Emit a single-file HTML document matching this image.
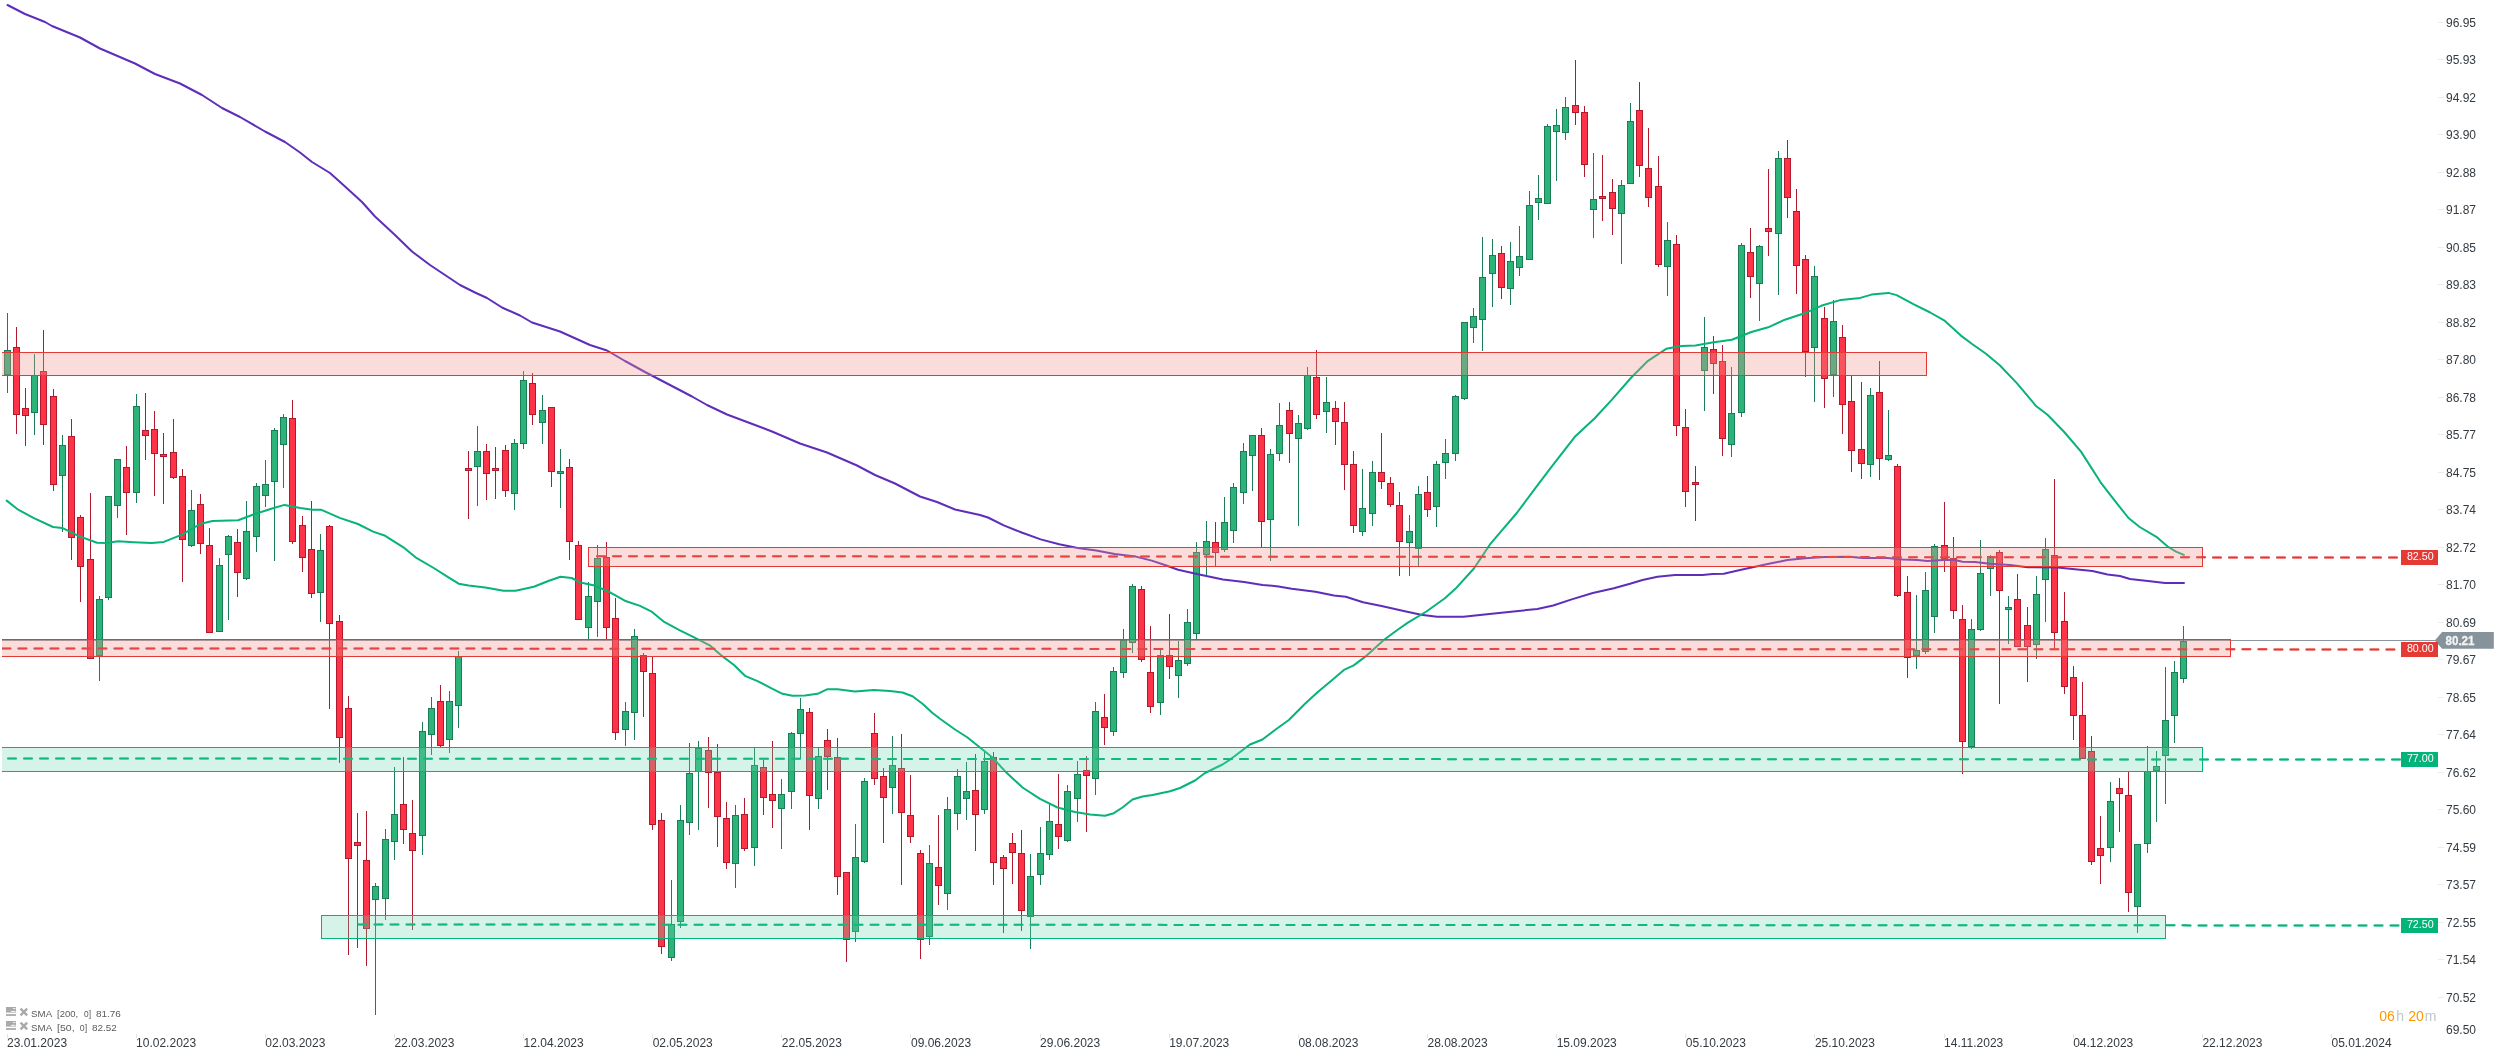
<!DOCTYPE html><html><head><meta charset="utf-8"><title>chart</title>
<style>html,body{margin:0;padding:0;background:#fff}body{width:2506px;height:1060px;overflow:hidden;font-family:"Liberation Sans",sans-serif}svg{display:block}text{font-family:"Liberation Sans",sans-serif}</style></head><body>
<svg width="2506" height="1060" viewBox="0 0 2506 1060" style="will-change:transform">
<defs><clipPath id="cl"><rect x="2" y="0" width="2504" height="1060"/></clipPath></defs>
<rect width="2506" height="1060" fill="#fff"/>
<line x1="2" y1="640.5" x2="2436" y2="640.5" stroke="#8a969d" stroke-width="1" shape-rendering="crispEdges"/>
<g shape-rendering="crispEdges">
<rect x="7.0" y="313" width="1" height="80" fill="#1a7d55"/>
<rect x="4.0" y="350" width="7" height="25" fill="#1a7d55"/>
<rect x="5.0" y="351" width="5" height="23" fill="#2bb37a"/>
<rect x="16.0" y="327" width="1" height="107" fill="#b01a2c"/>
<rect x="13.0" y="347" width="7" height="68" fill="#b01a2c"/>
<rect x="14.0" y="348" width="5" height="66" fill="#ff3347"/>
<rect x="25.0" y="388" width="1" height="58" fill="#b01a2c"/>
<rect x="22.0" y="408" width="7" height="8" fill="#b01a2c"/>
<rect x="23.0" y="409" width="5" height="6" fill="#ff3347"/>
<rect x="34.0" y="354" width="1" height="81" fill="#1a7d55"/>
<rect x="31.0" y="375" width="7" height="38" fill="#1a7d55"/>
<rect x="32.0" y="376" width="5" height="36" fill="#2bb37a"/>
<rect x="43.0" y="330" width="1" height="115" fill="#b01a2c"/>
<rect x="40.0" y="371" width="7" height="54" fill="#b01a2c"/>
<rect x="41.0" y="372" width="5" height="52" fill="#ff3347"/>
<rect x="53.0" y="389" width="1" height="102" fill="#b01a2c"/>
<rect x="50.0" y="396" width="7" height="89" fill="#b01a2c"/>
<rect x="51.0" y="397" width="5" height="87" fill="#ff3347"/>
<rect x="62.0" y="435" width="1" height="97" fill="#1a7d55"/>
<rect x="59.0" y="445" width="7" height="31" fill="#1a7d55"/>
<rect x="60.0" y="446" width="5" height="29" fill="#2bb37a"/>
<rect x="71.0" y="419" width="1" height="141" fill="#b01a2c"/>
<rect x="68.0" y="436" width="7" height="102" fill="#b01a2c"/>
<rect x="69.0" y="437" width="5" height="100" fill="#ff3347"/>
<rect x="80.0" y="515" width="1" height="87" fill="#b01a2c"/>
<rect x="77.0" y="517" width="7" height="50" fill="#b01a2c"/>
<rect x="78.0" y="518" width="5" height="48" fill="#ff3347"/>
<rect x="90.0" y="493" width="1" height="166" fill="#b01a2c"/>
<rect x="87.0" y="559" width="7" height="100" fill="#b01a2c"/>
<rect x="88.0" y="560" width="5" height="98" fill="#ff3347"/>
<rect x="99.0" y="596" width="1" height="85" fill="#1a7d55"/>
<rect x="96.0" y="599" width="7" height="57" fill="#1a7d55"/>
<rect x="97.0" y="600" width="5" height="55" fill="#2bb37a"/>
<rect x="108.0" y="496" width="1" height="104" fill="#1a7d55"/>
<rect x="105.0" y="496" width="7" height="102" fill="#1a7d55"/>
<rect x="106.0" y="497" width="5" height="100" fill="#2bb37a"/>
<rect x="117.0" y="459" width="1" height="59" fill="#1a7d55"/>
<rect x="114.0" y="459" width="7" height="47" fill="#1a7d55"/>
<rect x="115.0" y="460" width="5" height="45" fill="#2bb37a"/>
<rect x="126.0" y="446" width="1" height="89" fill="#b01a2c"/>
<rect x="123.0" y="467" width="7" height="26" fill="#b01a2c"/>
<rect x="124.0" y="468" width="5" height="24" fill="#ff3347"/>
<rect x="136.0" y="394" width="1" height="109" fill="#1a7d55"/>
<rect x="133.0" y="406" width="7" height="87" fill="#1a7d55"/>
<rect x="134.0" y="407" width="5" height="85" fill="#2bb37a"/>
<rect x="145.0" y="393" width="1" height="67" fill="#b01a2c"/>
<rect x="142.0" y="430" width="7" height="6" fill="#b01a2c"/>
<rect x="143.0" y="431" width="5" height="4" fill="#ff3347"/>
<rect x="154.0" y="411" width="1" height="85" fill="#b01a2c"/>
<rect x="151.0" y="429" width="7" height="25" fill="#b01a2c"/>
<rect x="152.0" y="430" width="5" height="23" fill="#ff3347"/>
<rect x="163.0" y="433" width="1" height="71" fill="#b01a2c"/>
<rect x="160.0" y="454" width="7" height="3" fill="#b01a2c"/>
<rect x="161.0" y="455" width="5" height="1" fill="#ff3347"/>
<rect x="173.0" y="419" width="1" height="60" fill="#b01a2c"/>
<rect x="170.0" y="452" width="7" height="26" fill="#b01a2c"/>
<rect x="171.0" y="453" width="5" height="24" fill="#ff3347"/>
<rect x="182.0" y="469" width="1" height="113" fill="#b01a2c"/>
<rect x="179.0" y="476" width="7" height="64" fill="#b01a2c"/>
<rect x="180.0" y="477" width="5" height="62" fill="#ff3347"/>
<rect x="191.0" y="490" width="1" height="57" fill="#1a7d55"/>
<rect x="188.0" y="510" width="7" height="36" fill="#1a7d55"/>
<rect x="189.0" y="511" width="5" height="34" fill="#2bb37a"/>
<rect x="200.0" y="494" width="1" height="60" fill="#b01a2c"/>
<rect x="197.0" y="504" width="7" height="40" fill="#b01a2c"/>
<rect x="198.0" y="505" width="5" height="38" fill="#ff3347"/>
<rect x="209.0" y="528" width="1" height="105" fill="#b01a2c"/>
<rect x="206.0" y="545" width="7" height="88" fill="#b01a2c"/>
<rect x="207.0" y="546" width="5" height="86" fill="#ff3347"/>
<rect x="219.0" y="558" width="1" height="74" fill="#1a7d55"/>
<rect x="216.0" y="565" width="7" height="67" fill="#1a7d55"/>
<rect x="217.0" y="566" width="5" height="65" fill="#2bb37a"/>
<rect x="228.0" y="535" width="1" height="85" fill="#1a7d55"/>
<rect x="225.0" y="536" width="7" height="19" fill="#1a7d55"/>
<rect x="226.0" y="537" width="5" height="17" fill="#2bb37a"/>
<rect x="237.0" y="529" width="1" height="68" fill="#b01a2c"/>
<rect x="234.0" y="542" width="7" height="31" fill="#b01a2c"/>
<rect x="235.0" y="543" width="5" height="29" fill="#ff3347"/>
<rect x="246.0" y="501" width="1" height="79" fill="#1a7d55"/>
<rect x="243.0" y="531" width="7" height="48" fill="#1a7d55"/>
<rect x="244.0" y="532" width="5" height="46" fill="#2bb37a"/>
<rect x="256.0" y="483" width="1" height="69" fill="#1a7d55"/>
<rect x="253.0" y="486" width="7" height="51" fill="#1a7d55"/>
<rect x="254.0" y="487" width="5" height="49" fill="#2bb37a"/>
<rect x="265.0" y="460" width="1" height="47" fill="#1a7d55"/>
<rect x="262.0" y="484" width="7" height="12" fill="#1a7d55"/>
<rect x="263.0" y="485" width="5" height="10" fill="#2bb37a"/>
<rect x="274.0" y="428" width="1" height="133" fill="#1a7d55"/>
<rect x="271.0" y="430" width="7" height="52" fill="#1a7d55"/>
<rect x="272.0" y="431" width="5" height="50" fill="#2bb37a"/>
<rect x="283.0" y="414" width="1" height="74" fill="#1a7d55"/>
<rect x="280.0" y="417" width="7" height="28" fill="#1a7d55"/>
<rect x="281.0" y="418" width="5" height="26" fill="#2bb37a"/>
<rect x="292.0" y="400" width="1" height="144" fill="#b01a2c"/>
<rect x="289.0" y="418" width="7" height="124" fill="#b01a2c"/>
<rect x="290.0" y="419" width="5" height="122" fill="#ff3347"/>
<rect x="302.0" y="516" width="1" height="56" fill="#b01a2c"/>
<rect x="299.0" y="525" width="7" height="33" fill="#b01a2c"/>
<rect x="300.0" y="526" width="5" height="31" fill="#ff3347"/>
<rect x="311.0" y="501" width="1" height="97" fill="#b01a2c"/>
<rect x="308.0" y="549" width="7" height="45" fill="#b01a2c"/>
<rect x="309.0" y="550" width="5" height="43" fill="#ff3347"/>
<rect x="320.0" y="534" width="1" height="88" fill="#1a7d55"/>
<rect x="317.0" y="550" width="7" height="43" fill="#1a7d55"/>
<rect x="318.0" y="551" width="5" height="41" fill="#2bb37a"/>
<rect x="329.0" y="525" width="1" height="184" fill="#b01a2c"/>
<rect x="326.0" y="526" width="7" height="98" fill="#b01a2c"/>
<rect x="327.0" y="527" width="5" height="96" fill="#ff3347"/>
<rect x="339.0" y="615" width="1" height="148" fill="#b01a2c"/>
<rect x="336.0" y="621" width="7" height="117" fill="#b01a2c"/>
<rect x="337.0" y="622" width="5" height="115" fill="#ff3347"/>
<rect x="348.0" y="696" width="1" height="259" fill="#b01a2c"/>
<rect x="345.0" y="708" width="7" height="151" fill="#b01a2c"/>
<rect x="346.0" y="709" width="5" height="149" fill="#ff3347"/>
<rect x="357.0" y="813" width="1" height="135" fill="#b01a2c"/>
<rect x="354.0" y="842" width="7" height="4" fill="#b01a2c"/>
<rect x="355.0" y="843" width="5" height="2" fill="#ff3347"/>
<rect x="366.0" y="811" width="1" height="155" fill="#b01a2c"/>
<rect x="363.0" y="860" width="7" height="69" fill="#b01a2c"/>
<rect x="364.0" y="861" width="5" height="67" fill="#ff3347"/>
<rect x="375.0" y="883" width="1" height="132" fill="#1a7d55"/>
<rect x="372.0" y="886" width="7" height="14" fill="#1a7d55"/>
<rect x="373.0" y="887" width="5" height="12" fill="#2bb37a"/>
<rect x="385.0" y="829" width="1" height="91" fill="#1a7d55"/>
<rect x="382.0" y="839" width="7" height="60" fill="#1a7d55"/>
<rect x="383.0" y="840" width="5" height="58" fill="#2bb37a"/>
<rect x="394.0" y="767" width="1" height="93" fill="#1a7d55"/>
<rect x="391.0" y="814" width="7" height="28" fill="#1a7d55"/>
<rect x="392.0" y="815" width="5" height="26" fill="#2bb37a"/>
<rect x="403.0" y="757" width="1" height="87" fill="#b01a2c"/>
<rect x="400.0" y="804" width="7" height="26" fill="#b01a2c"/>
<rect x="401.0" y="805" width="5" height="24" fill="#ff3347"/>
<rect x="412.0" y="800" width="1" height="130" fill="#b01a2c"/>
<rect x="409.0" y="833" width="7" height="18" fill="#b01a2c"/>
<rect x="410.0" y="834" width="5" height="16" fill="#ff3347"/>
<rect x="422.0" y="722" width="1" height="133" fill="#1a7d55"/>
<rect x="419.0" y="731" width="7" height="105" fill="#1a7d55"/>
<rect x="420.0" y="732" width="5" height="103" fill="#2bb37a"/>
<rect x="431.0" y="697" width="1" height="58" fill="#1a7d55"/>
<rect x="428.0" y="708" width="7" height="27" fill="#1a7d55"/>
<rect x="429.0" y="709" width="5" height="25" fill="#2bb37a"/>
<rect x="440.0" y="685" width="1" height="62" fill="#b01a2c"/>
<rect x="437.0" y="701" width="7" height="45" fill="#b01a2c"/>
<rect x="438.0" y="702" width="5" height="43" fill="#ff3347"/>
<rect x="449.0" y="691" width="1" height="62" fill="#1a7d55"/>
<rect x="446.0" y="701" width="7" height="39" fill="#1a7d55"/>
<rect x="447.0" y="702" width="5" height="37" fill="#2bb37a"/>
<rect x="458.0" y="651" width="1" height="77" fill="#1a7d55"/>
<rect x="455.0" y="656" width="7" height="50" fill="#1a7d55"/>
<rect x="456.0" y="657" width="5" height="48" fill="#2bb37a"/>
<rect x="468.0" y="451" width="1" height="68" fill="#b01a2c"/>
<rect x="465.0" y="468" width="7" height="3" fill="#b01a2c"/>
<rect x="466.0" y="469" width="5" height="1" fill="#ff3347"/>
<rect x="477.0" y="426" width="1" height="80" fill="#1a7d55"/>
<rect x="474.0" y="451" width="7" height="16" fill="#1a7d55"/>
<rect x="475.0" y="452" width="5" height="14" fill="#2bb37a"/>
<rect x="486.0" y="444" width="1" height="56" fill="#b01a2c"/>
<rect x="483.0" y="451" width="7" height="23" fill="#b01a2c"/>
<rect x="484.0" y="452" width="5" height="21" fill="#ff3347"/>
<rect x="495.0" y="447" width="1" height="52" fill="#b01a2c"/>
<rect x="492.0" y="468" width="7" height="3" fill="#b01a2c"/>
<rect x="493.0" y="469" width="5" height="1" fill="#ff3347"/>
<rect x="505.0" y="445" width="1" height="52" fill="#b01a2c"/>
<rect x="502.0" y="450" width="7" height="41" fill="#b01a2c"/>
<rect x="503.0" y="451" width="5" height="39" fill="#ff3347"/>
<rect x="514.0" y="439" width="1" height="71" fill="#1a7d55"/>
<rect x="511.0" y="443" width="7" height="51" fill="#1a7d55"/>
<rect x="512.0" y="444" width="5" height="49" fill="#2bb37a"/>
<rect x="523.0" y="371" width="1" height="78" fill="#1a7d55"/>
<rect x="520.0" y="380" width="7" height="64" fill="#1a7d55"/>
<rect x="521.0" y="381" width="5" height="62" fill="#2bb37a"/>
<rect x="532.0" y="373" width="1" height="52" fill="#b01a2c"/>
<rect x="529.0" y="383" width="7" height="32" fill="#b01a2c"/>
<rect x="530.0" y="384" width="5" height="30" fill="#ff3347"/>
<rect x="542.0" y="395" width="1" height="49" fill="#1a7d55"/>
<rect x="539.0" y="410" width="7" height="13" fill="#1a7d55"/>
<rect x="540.0" y="411" width="5" height="11" fill="#2bb37a"/>
<rect x="551.0" y="407" width="1" height="80" fill="#b01a2c"/>
<rect x="548.0" y="407" width="7" height="65" fill="#b01a2c"/>
<rect x="549.0" y="408" width="5" height="63" fill="#ff3347"/>
<rect x="560.0" y="449" width="1" height="59" fill="#1a7d55"/>
<rect x="557.0" y="471" width="7" height="3" fill="#1a7d55"/>
<rect x="558.0" y="472" width="5" height="1" fill="#2bb37a"/>
<rect x="569.0" y="459" width="1" height="101" fill="#b01a2c"/>
<rect x="566.0" y="467" width="7" height="75" fill="#b01a2c"/>
<rect x="567.0" y="468" width="5" height="73" fill="#ff3347"/>
<rect x="578.0" y="541" width="1" height="79" fill="#b01a2c"/>
<rect x="575.0" y="545" width="7" height="75" fill="#b01a2c"/>
<rect x="576.0" y="546" width="5" height="73" fill="#ff3347"/>
<rect x="588.0" y="582" width="1" height="57" fill="#1a7d55"/>
<rect x="585.0" y="596" width="7" height="32" fill="#1a7d55"/>
<rect x="586.0" y="597" width="5" height="30" fill="#2bb37a"/>
<rect x="597.0" y="545" width="1" height="92" fill="#1a7d55"/>
<rect x="594.0" y="558" width="7" height="44" fill="#1a7d55"/>
<rect x="595.0" y="559" width="5" height="42" fill="#2bb37a"/>
<rect x="606.0" y="542" width="1" height="97" fill="#b01a2c"/>
<rect x="603.0" y="557" width="7" height="71" fill="#b01a2c"/>
<rect x="604.0" y="558" width="5" height="69" fill="#ff3347"/>
<rect x="615.0" y="598" width="1" height="142" fill="#b01a2c"/>
<rect x="612.0" y="618" width="7" height="115" fill="#b01a2c"/>
<rect x="613.0" y="619" width="5" height="113" fill="#ff3347"/>
<rect x="625.0" y="702" width="1" height="44" fill="#1a7d55"/>
<rect x="622.0" y="711" width="7" height="19" fill="#1a7d55"/>
<rect x="623.0" y="712" width="5" height="17" fill="#2bb37a"/>
<rect x="634.0" y="629" width="1" height="111" fill="#1a7d55"/>
<rect x="631.0" y="636" width="7" height="77" fill="#1a7d55"/>
<rect x="632.0" y="637" width="5" height="75" fill="#2bb37a"/>
<rect x="643.0" y="653" width="1" height="64" fill="#b01a2c"/>
<rect x="640.0" y="655" width="7" height="17" fill="#b01a2c"/>
<rect x="641.0" y="656" width="5" height="15" fill="#ff3347"/>
<rect x="652.0" y="657" width="1" height="173" fill="#b01a2c"/>
<rect x="649.0" y="673" width="7" height="152" fill="#b01a2c"/>
<rect x="650.0" y="674" width="5" height="150" fill="#ff3347"/>
<rect x="661.0" y="813" width="1" height="141" fill="#b01a2c"/>
<rect x="658.0" y="820" width="7" height="127" fill="#b01a2c"/>
<rect x="659.0" y="821" width="5" height="125" fill="#ff3347"/>
<rect x="671.0" y="880" width="1" height="81" fill="#1a7d55"/>
<rect x="668.0" y="924" width="7" height="34" fill="#1a7d55"/>
<rect x="669.0" y="925" width="5" height="32" fill="#2bb37a"/>
<rect x="680.0" y="805" width="1" height="123" fill="#1a7d55"/>
<rect x="677.0" y="820" width="7" height="102" fill="#1a7d55"/>
<rect x="678.0" y="821" width="5" height="100" fill="#2bb37a"/>
<rect x="689.0" y="743" width="1" height="92" fill="#1a7d55"/>
<rect x="686.0" y="773" width="7" height="50" fill="#1a7d55"/>
<rect x="687.0" y="774" width="5" height="48" fill="#2bb37a"/>
<rect x="698.0" y="741" width="1" height="89" fill="#1a7d55"/>
<rect x="695.0" y="748" width="7" height="24" fill="#1a7d55"/>
<rect x="696.0" y="749" width="5" height="22" fill="#2bb37a"/>
<rect x="708.0" y="737" width="1" height="71" fill="#b01a2c"/>
<rect x="705.0" y="750" width="7" height="23" fill="#b01a2c"/>
<rect x="706.0" y="751" width="5" height="21" fill="#ff3347"/>
<rect x="717.0" y="744" width="1" height="103" fill="#b01a2c"/>
<rect x="714.0" y="772" width="7" height="45" fill="#b01a2c"/>
<rect x="715.0" y="773" width="5" height="43" fill="#ff3347"/>
<rect x="726.0" y="802" width="1" height="67" fill="#b01a2c"/>
<rect x="723.0" y="818" width="7" height="45" fill="#b01a2c"/>
<rect x="724.0" y="819" width="5" height="43" fill="#ff3347"/>
<rect x="735.0" y="805" width="1" height="83" fill="#1a7d55"/>
<rect x="732.0" y="815" width="7" height="49" fill="#1a7d55"/>
<rect x="733.0" y="816" width="5" height="47" fill="#2bb37a"/>
<rect x="744.0" y="798" width="1" height="53" fill="#b01a2c"/>
<rect x="741.0" y="814" width="7" height="35" fill="#b01a2c"/>
<rect x="742.0" y="815" width="5" height="33" fill="#ff3347"/>
<rect x="754.0" y="747" width="1" height="119" fill="#1a7d55"/>
<rect x="751.0" y="765" width="7" height="83" fill="#1a7d55"/>
<rect x="752.0" y="766" width="5" height="81" fill="#2bb37a"/>
<rect x="763.0" y="760" width="1" height="55" fill="#b01a2c"/>
<rect x="760.0" y="767" width="7" height="31" fill="#b01a2c"/>
<rect x="761.0" y="768" width="5" height="29" fill="#ff3347"/>
<rect x="772.0" y="741" width="1" height="87" fill="#b01a2c"/>
<rect x="769.0" y="794" width="7" height="7" fill="#b01a2c"/>
<rect x="770.0" y="795" width="5" height="5" fill="#ff3347"/>
<rect x="781.0" y="779" width="1" height="70" fill="#1a7d55"/>
<rect x="778.0" y="794" width="7" height="15" fill="#1a7d55"/>
<rect x="779.0" y="795" width="5" height="13" fill="#2bb37a"/>
<rect x="791.0" y="732" width="1" height="77" fill="#1a7d55"/>
<rect x="788.0" y="733" width="7" height="59" fill="#1a7d55"/>
<rect x="789.0" y="734" width="5" height="57" fill="#2bb37a"/>
<rect x="800.0" y="698" width="1" height="60" fill="#1a7d55"/>
<rect x="797.0" y="709" width="7" height="25" fill="#1a7d55"/>
<rect x="798.0" y="710" width="5" height="23" fill="#2bb37a"/>
<rect x="809.0" y="708" width="1" height="122" fill="#b01a2c"/>
<rect x="806.0" y="712" width="7" height="84" fill="#b01a2c"/>
<rect x="807.0" y="713" width="5" height="82" fill="#ff3347"/>
<rect x="818.0" y="747" width="1" height="62" fill="#1a7d55"/>
<rect x="815.0" y="756" width="7" height="43" fill="#1a7d55"/>
<rect x="816.0" y="757" width="5" height="41" fill="#2bb37a"/>
<rect x="827.0" y="729" width="1" height="61" fill="#b01a2c"/>
<rect x="824.0" y="740" width="7" height="17" fill="#b01a2c"/>
<rect x="825.0" y="741" width="5" height="15" fill="#ff3347"/>
<rect x="837.0" y="738" width="1" height="157" fill="#b01a2c"/>
<rect x="834.0" y="757" width="7" height="120" fill="#b01a2c"/>
<rect x="835.0" y="758" width="5" height="118" fill="#ff3347"/>
<rect x="846.0" y="872" width="1" height="90" fill="#b01a2c"/>
<rect x="843.0" y="872" width="7" height="68" fill="#b01a2c"/>
<rect x="844.0" y="873" width="5" height="66" fill="#ff3347"/>
<rect x="855.0" y="824" width="1" height="118" fill="#1a7d55"/>
<rect x="852.0" y="857" width="7" height="75" fill="#1a7d55"/>
<rect x="853.0" y="858" width="5" height="73" fill="#2bb37a"/>
<rect x="864.0" y="778" width="1" height="85" fill="#1a7d55"/>
<rect x="861.0" y="781" width="7" height="81" fill="#1a7d55"/>
<rect x="862.0" y="782" width="5" height="79" fill="#2bb37a"/>
<rect x="874.0" y="713" width="1" height="72" fill="#b01a2c"/>
<rect x="871.0" y="733" width="7" height="46" fill="#b01a2c"/>
<rect x="872.0" y="734" width="5" height="44" fill="#ff3347"/>
<rect x="883.0" y="768" width="1" height="75" fill="#b01a2c"/>
<rect x="880.0" y="776" width="7" height="22" fill="#b01a2c"/>
<rect x="881.0" y="777" width="5" height="20" fill="#ff3347"/>
<rect x="892.0" y="736" width="1" height="78" fill="#1a7d55"/>
<rect x="889.0" y="765" width="7" height="23" fill="#1a7d55"/>
<rect x="890.0" y="766" width="5" height="21" fill="#2bb37a"/>
<rect x="901.0" y="734" width="1" height="151" fill="#b01a2c"/>
<rect x="898.0" y="768" width="7" height="45" fill="#b01a2c"/>
<rect x="899.0" y="769" width="5" height="43" fill="#ff3347"/>
<rect x="910.0" y="775" width="1" height="68" fill="#b01a2c"/>
<rect x="907.0" y="815" width="7" height="22" fill="#b01a2c"/>
<rect x="908.0" y="816" width="5" height="20" fill="#ff3347"/>
<rect x="920.0" y="850" width="1" height="109" fill="#b01a2c"/>
<rect x="917.0" y="853" width="7" height="87" fill="#b01a2c"/>
<rect x="918.0" y="854" width="5" height="85" fill="#ff3347"/>
<rect x="929.0" y="845" width="1" height="100" fill="#1a7d55"/>
<rect x="926.0" y="863" width="7" height="74" fill="#1a7d55"/>
<rect x="927.0" y="864" width="5" height="72" fill="#2bb37a"/>
<rect x="938.0" y="815" width="1" height="90" fill="#b01a2c"/>
<rect x="935.0" y="867" width="7" height="19" fill="#b01a2c"/>
<rect x="936.0" y="868" width="5" height="17" fill="#ff3347"/>
<rect x="947.0" y="797" width="1" height="113" fill="#1a7d55"/>
<rect x="944.0" y="809" width="7" height="85" fill="#1a7d55"/>
<rect x="945.0" y="810" width="5" height="83" fill="#2bb37a"/>
<rect x="957.0" y="769" width="1" height="61" fill="#1a7d55"/>
<rect x="954.0" y="776" width="7" height="38" fill="#1a7d55"/>
<rect x="955.0" y="777" width="5" height="36" fill="#2bb37a"/>
<rect x="966.0" y="762" width="1" height="58" fill="#1a7d55"/>
<rect x="963.0" y="791" width="7" height="8" fill="#1a7d55"/>
<rect x="964.0" y="792" width="5" height="6" fill="#2bb37a"/>
<rect x="975.0" y="754" width="1" height="97" fill="#b01a2c"/>
<rect x="972.0" y="790" width="7" height="25" fill="#b01a2c"/>
<rect x="973.0" y="791" width="5" height="23" fill="#ff3347"/>
<rect x="984.0" y="751" width="1" height="63" fill="#1a7d55"/>
<rect x="981.0" y="761" width="7" height="49" fill="#1a7d55"/>
<rect x="982.0" y="762" width="5" height="47" fill="#2bb37a"/>
<rect x="993.0" y="752" width="1" height="133" fill="#b01a2c"/>
<rect x="990.0" y="757" width="7" height="106" fill="#b01a2c"/>
<rect x="991.0" y="758" width="5" height="104" fill="#ff3347"/>
<rect x="1003.0" y="855" width="1" height="78" fill="#b01a2c"/>
<rect x="1000.0" y="857" width="7" height="12" fill="#b01a2c"/>
<rect x="1001.0" y="858" width="5" height="10" fill="#ff3347"/>
<rect x="1012.0" y="833" width="1" height="51" fill="#b01a2c"/>
<rect x="1009.0" y="843" width="7" height="10" fill="#b01a2c"/>
<rect x="1010.0" y="844" width="5" height="8" fill="#ff3347"/>
<rect x="1021.0" y="830" width="1" height="101" fill="#b01a2c"/>
<rect x="1018.0" y="853" width="7" height="58" fill="#b01a2c"/>
<rect x="1019.0" y="854" width="5" height="56" fill="#ff3347"/>
<rect x="1030.0" y="854" width="1" height="95" fill="#1a7d55"/>
<rect x="1027.0" y="876" width="7" height="41" fill="#1a7d55"/>
<rect x="1028.0" y="877" width="5" height="39" fill="#2bb37a"/>
<rect x="1040.0" y="827" width="1" height="58" fill="#1a7d55"/>
<rect x="1037.0" y="853" width="7" height="22" fill="#1a7d55"/>
<rect x="1038.0" y="854" width="5" height="20" fill="#2bb37a"/>
<rect x="1049.0" y="804" width="1" height="56" fill="#1a7d55"/>
<rect x="1046.0" y="821" width="7" height="34" fill="#1a7d55"/>
<rect x="1047.0" y="822" width="5" height="32" fill="#2bb37a"/>
<rect x="1058.0" y="774" width="1" height="75" fill="#b01a2c"/>
<rect x="1055.0" y="824" width="7" height="13" fill="#b01a2c"/>
<rect x="1056.0" y="825" width="5" height="11" fill="#ff3347"/>
<rect x="1067.0" y="785" width="1" height="57" fill="#1a7d55"/>
<rect x="1064.0" y="791" width="7" height="50" fill="#1a7d55"/>
<rect x="1065.0" y="792" width="5" height="48" fill="#2bb37a"/>
<rect x="1077.0" y="761" width="1" height="61" fill="#1a7d55"/>
<rect x="1074.0" y="774" width="7" height="25" fill="#1a7d55"/>
<rect x="1075.0" y="775" width="5" height="23" fill="#2bb37a"/>
<rect x="1086.0" y="756" width="1" height="76" fill="#b01a2c"/>
<rect x="1083.0" y="770" width="7" height="6" fill="#b01a2c"/>
<rect x="1084.0" y="771" width="5" height="4" fill="#ff3347"/>
<rect x="1095.0" y="702" width="1" height="93" fill="#1a7d55"/>
<rect x="1092.0" y="711" width="7" height="68" fill="#1a7d55"/>
<rect x="1093.0" y="712" width="5" height="66" fill="#2bb37a"/>
<rect x="1104.0" y="694" width="1" height="51" fill="#b01a2c"/>
<rect x="1101.0" y="717" width="7" height="11" fill="#b01a2c"/>
<rect x="1102.0" y="718" width="5" height="9" fill="#ff3347"/>
<rect x="1113.0" y="667" width="1" height="69" fill="#1a7d55"/>
<rect x="1110.0" y="671" width="7" height="61" fill="#1a7d55"/>
<rect x="1111.0" y="672" width="5" height="59" fill="#2bb37a"/>
<rect x="1123.0" y="629" width="1" height="49" fill="#1a7d55"/>
<rect x="1120.0" y="640" width="7" height="33" fill="#1a7d55"/>
<rect x="1121.0" y="641" width="5" height="31" fill="#2bb37a"/>
<rect x="1132.0" y="584" width="1" height="69" fill="#1a7d55"/>
<rect x="1129.0" y="586" width="7" height="57" fill="#1a7d55"/>
<rect x="1130.0" y="587" width="5" height="55" fill="#2bb37a"/>
<rect x="1141.0" y="586" width="1" height="76" fill="#b01a2c"/>
<rect x="1138.0" y="589" width="7" height="71" fill="#b01a2c"/>
<rect x="1139.0" y="590" width="5" height="69" fill="#ff3347"/>
<rect x="1150.0" y="626" width="1" height="87" fill="#b01a2c"/>
<rect x="1147.0" y="672" width="7" height="35" fill="#b01a2c"/>
<rect x="1148.0" y="673" width="5" height="33" fill="#ff3347"/>
<rect x="1160.0" y="650" width="1" height="65" fill="#1a7d55"/>
<rect x="1157.0" y="655" width="7" height="48" fill="#1a7d55"/>
<rect x="1158.0" y="656" width="5" height="46" fill="#2bb37a"/>
<rect x="1169.0" y="614" width="1" height="65" fill="#b01a2c"/>
<rect x="1166.0" y="655" width="7" height="12" fill="#b01a2c"/>
<rect x="1167.0" y="656" width="5" height="10" fill="#ff3347"/>
<rect x="1178.0" y="641" width="1" height="57" fill="#1a7d55"/>
<rect x="1175.0" y="660" width="7" height="16" fill="#1a7d55"/>
<rect x="1176.0" y="661" width="5" height="14" fill="#2bb37a"/>
<rect x="1187.0" y="609" width="1" height="57" fill="#1a7d55"/>
<rect x="1184.0" y="622" width="7" height="42" fill="#1a7d55"/>
<rect x="1185.0" y="623" width="5" height="40" fill="#2bb37a"/>
<rect x="1196.0" y="542" width="1" height="97" fill="#1a7d55"/>
<rect x="1193.0" y="552" width="7" height="82" fill="#1a7d55"/>
<rect x="1194.0" y="553" width="5" height="80" fill="#2bb37a"/>
<rect x="1206.0" y="521" width="1" height="54" fill="#1a7d55"/>
<rect x="1203.0" y="541" width="7" height="14" fill="#1a7d55"/>
<rect x="1204.0" y="542" width="5" height="12" fill="#2bb37a"/>
<rect x="1215.0" y="522" width="1" height="44" fill="#b01a2c"/>
<rect x="1212.0" y="542" width="7" height="11" fill="#b01a2c"/>
<rect x="1213.0" y="543" width="5" height="9" fill="#ff3347"/>
<rect x="1224.0" y="497" width="1" height="55" fill="#1a7d55"/>
<rect x="1221.0" y="522" width="7" height="28" fill="#1a7d55"/>
<rect x="1222.0" y="523" width="5" height="26" fill="#2bb37a"/>
<rect x="1233.0" y="483" width="1" height="60" fill="#1a7d55"/>
<rect x="1230.0" y="487" width="7" height="44" fill="#1a7d55"/>
<rect x="1231.0" y="488" width="5" height="42" fill="#2bb37a"/>
<rect x="1243.0" y="443" width="1" height="61" fill="#1a7d55"/>
<rect x="1240.0" y="451" width="7" height="42" fill="#1a7d55"/>
<rect x="1241.0" y="452" width="5" height="40" fill="#2bb37a"/>
<rect x="1252.0" y="435" width="1" height="56" fill="#1a7d55"/>
<rect x="1249.0" y="435" width="7" height="21" fill="#1a7d55"/>
<rect x="1250.0" y="436" width="5" height="19" fill="#2bb37a"/>
<rect x="1261.0" y="428" width="1" height="119" fill="#b01a2c"/>
<rect x="1258.0" y="435" width="7" height="87" fill="#b01a2c"/>
<rect x="1259.0" y="436" width="5" height="85" fill="#ff3347"/>
<rect x="1270.0" y="449" width="1" height="112" fill="#1a7d55"/>
<rect x="1267.0" y="454" width="7" height="66" fill="#1a7d55"/>
<rect x="1268.0" y="455" width="5" height="64" fill="#2bb37a"/>
<rect x="1279.0" y="403" width="1" height="58" fill="#1a7d55"/>
<rect x="1276.0" y="425" width="7" height="29" fill="#1a7d55"/>
<rect x="1277.0" y="426" width="5" height="27" fill="#2bb37a"/>
<rect x="1289.0" y="402" width="1" height="61" fill="#b01a2c"/>
<rect x="1286.0" y="410" width="7" height="24" fill="#b01a2c"/>
<rect x="1287.0" y="411" width="5" height="22" fill="#ff3347"/>
<rect x="1298.0" y="415" width="1" height="111" fill="#1a7d55"/>
<rect x="1295.0" y="423" width="7" height="16" fill="#1a7d55"/>
<rect x="1296.0" y="424" width="5" height="14" fill="#2bb37a"/>
<rect x="1307.0" y="367" width="1" height="63" fill="#1a7d55"/>
<rect x="1304.0" y="375" width="7" height="54" fill="#1a7d55"/>
<rect x="1305.0" y="376" width="5" height="52" fill="#2bb37a"/>
<rect x="1316.0" y="350" width="1" height="69" fill="#b01a2c"/>
<rect x="1313.0" y="377" width="7" height="38" fill="#b01a2c"/>
<rect x="1314.0" y="378" width="5" height="36" fill="#ff3347"/>
<rect x="1326.0" y="377" width="1" height="56" fill="#1a7d55"/>
<rect x="1323.0" y="402" width="7" height="10" fill="#1a7d55"/>
<rect x="1324.0" y="403" width="5" height="8" fill="#2bb37a"/>
<rect x="1335.0" y="401" width="1" height="44" fill="#b01a2c"/>
<rect x="1332.0" y="408" width="7" height="14" fill="#b01a2c"/>
<rect x="1333.0" y="409" width="5" height="12" fill="#ff3347"/>
<rect x="1344.0" y="402" width="1" height="88" fill="#b01a2c"/>
<rect x="1341.0" y="422" width="7" height="43" fill="#b01a2c"/>
<rect x="1342.0" y="423" width="5" height="41" fill="#ff3347"/>
<rect x="1353.0" y="451" width="1" height="82" fill="#b01a2c"/>
<rect x="1350.0" y="464" width="7" height="62" fill="#b01a2c"/>
<rect x="1351.0" y="465" width="5" height="60" fill="#ff3347"/>
<rect x="1362.0" y="469" width="1" height="67" fill="#1a7d55"/>
<rect x="1359.0" y="508" width="7" height="24" fill="#1a7d55"/>
<rect x="1360.0" y="509" width="5" height="22" fill="#2bb37a"/>
<rect x="1372.0" y="461" width="1" height="65" fill="#1a7d55"/>
<rect x="1369.0" y="472" width="7" height="42" fill="#1a7d55"/>
<rect x="1370.0" y="473" width="5" height="40" fill="#2bb37a"/>
<rect x="1381.0" y="433" width="1" height="56" fill="#b01a2c"/>
<rect x="1378.0" y="472" width="7" height="10" fill="#b01a2c"/>
<rect x="1379.0" y="473" width="5" height="8" fill="#ff3347"/>
<rect x="1390.0" y="477" width="1" height="30" fill="#b01a2c"/>
<rect x="1387.0" y="483" width="7" height="22" fill="#b01a2c"/>
<rect x="1388.0" y="484" width="5" height="20" fill="#ff3347"/>
<rect x="1399.0" y="492" width="1" height="84" fill="#b01a2c"/>
<rect x="1396.0" y="505" width="7" height="37" fill="#b01a2c"/>
<rect x="1397.0" y="506" width="5" height="35" fill="#ff3347"/>
<rect x="1409.0" y="515" width="1" height="61" fill="#1a7d55"/>
<rect x="1406.0" y="531" width="7" height="12" fill="#1a7d55"/>
<rect x="1407.0" y="532" width="5" height="10" fill="#2bb37a"/>
<rect x="1418.0" y="486" width="1" height="80" fill="#1a7d55"/>
<rect x="1415.0" y="494" width="7" height="55" fill="#1a7d55"/>
<rect x="1416.0" y="495" width="5" height="53" fill="#2bb37a"/>
<rect x="1427.0" y="476" width="1" height="41" fill="#b01a2c"/>
<rect x="1424.0" y="492" width="7" height="18" fill="#b01a2c"/>
<rect x="1425.0" y="493" width="5" height="16" fill="#ff3347"/>
<rect x="1436.0" y="461" width="1" height="66" fill="#1a7d55"/>
<rect x="1433.0" y="464" width="7" height="43" fill="#1a7d55"/>
<rect x="1434.0" y="465" width="5" height="41" fill="#2bb37a"/>
<rect x="1445.0" y="439" width="1" height="40" fill="#1a7d55"/>
<rect x="1442.0" y="453" width="7" height="10" fill="#1a7d55"/>
<rect x="1443.0" y="454" width="5" height="8" fill="#2bb37a"/>
<rect x="1455.0" y="395" width="1" height="66" fill="#1a7d55"/>
<rect x="1452.0" y="396" width="7" height="58" fill="#1a7d55"/>
<rect x="1453.0" y="397" width="5" height="56" fill="#2bb37a"/>
<rect x="1464.0" y="322" width="1" height="78" fill="#1a7d55"/>
<rect x="1461.0" y="322" width="7" height="77" fill="#1a7d55"/>
<rect x="1462.0" y="323" width="5" height="75" fill="#2bb37a"/>
<rect x="1473.0" y="308" width="1" height="35" fill="#1a7d55"/>
<rect x="1470.0" y="316" width="7" height="12" fill="#1a7d55"/>
<rect x="1471.0" y="317" width="5" height="10" fill="#2bb37a"/>
<rect x="1482.0" y="237" width="1" height="114" fill="#1a7d55"/>
<rect x="1479.0" y="277" width="7" height="43" fill="#1a7d55"/>
<rect x="1480.0" y="278" width="5" height="41" fill="#2bb37a"/>
<rect x="1492.0" y="239" width="1" height="68" fill="#1a7d55"/>
<rect x="1489.0" y="255" width="7" height="19" fill="#1a7d55"/>
<rect x="1490.0" y="256" width="5" height="17" fill="#2bb37a"/>
<rect x="1501.0" y="246" width="1" height="53" fill="#b01a2c"/>
<rect x="1498.0" y="253" width="7" height="35" fill="#b01a2c"/>
<rect x="1499.0" y="254" width="5" height="33" fill="#ff3347"/>
<rect x="1510.0" y="242" width="1" height="63" fill="#1a7d55"/>
<rect x="1507.0" y="261" width="7" height="28" fill="#1a7d55"/>
<rect x="1508.0" y="262" width="5" height="26" fill="#2bb37a"/>
<rect x="1519.0" y="226" width="1" height="50" fill="#1a7d55"/>
<rect x="1516.0" y="256" width="7" height="12" fill="#1a7d55"/>
<rect x="1517.0" y="257" width="5" height="10" fill="#2bb37a"/>
<rect x="1529.0" y="191" width="1" height="69" fill="#1a7d55"/>
<rect x="1526.0" y="205" width="7" height="55" fill="#1a7d55"/>
<rect x="1527.0" y="206" width="5" height="53" fill="#2bb37a"/>
<rect x="1538.0" y="175" width="1" height="45" fill="#1a7d55"/>
<rect x="1535.0" y="198" width="7" height="5" fill="#1a7d55"/>
<rect x="1536.0" y="199" width="5" height="3" fill="#2bb37a"/>
<rect x="1547.0" y="124" width="1" height="80" fill="#1a7d55"/>
<rect x="1544.0" y="126" width="7" height="78" fill="#1a7d55"/>
<rect x="1545.0" y="127" width="5" height="76" fill="#2bb37a"/>
<rect x="1556.0" y="109" width="1" height="72" fill="#1a7d55"/>
<rect x="1553.0" y="125" width="7" height="7" fill="#1a7d55"/>
<rect x="1554.0" y="126" width="5" height="5" fill="#2bb37a"/>
<rect x="1565.0" y="97" width="1" height="43" fill="#1a7d55"/>
<rect x="1562.0" y="107" width="7" height="26" fill="#1a7d55"/>
<rect x="1563.0" y="108" width="5" height="24" fill="#2bb37a"/>
<rect x="1575.0" y="60" width="1" height="65" fill="#b01a2c"/>
<rect x="1572.0" y="105" width="7" height="8" fill="#b01a2c"/>
<rect x="1573.0" y="106" width="5" height="6" fill="#ff3347"/>
<rect x="1584.0" y="106" width="1" height="71" fill="#b01a2c"/>
<rect x="1581.0" y="112" width="7" height="53" fill="#b01a2c"/>
<rect x="1582.0" y="113" width="5" height="51" fill="#ff3347"/>
<rect x="1593.0" y="153" width="1" height="85" fill="#1a7d55"/>
<rect x="1590.0" y="199" width="7" height="11" fill="#1a7d55"/>
<rect x="1591.0" y="200" width="5" height="9" fill="#2bb37a"/>
<rect x="1602.0" y="155" width="1" height="66" fill="#b01a2c"/>
<rect x="1599.0" y="196" width="7" height="3" fill="#b01a2c"/>
<rect x="1600.0" y="197" width="5" height="1" fill="#ff3347"/>
<rect x="1612.0" y="179" width="1" height="56" fill="#b01a2c"/>
<rect x="1609.0" y="192" width="7" height="17" fill="#b01a2c"/>
<rect x="1610.0" y="193" width="5" height="15" fill="#ff3347"/>
<rect x="1621.0" y="180" width="1" height="84" fill="#1a7d55"/>
<rect x="1618.0" y="185" width="7" height="29" fill="#1a7d55"/>
<rect x="1619.0" y="186" width="5" height="27" fill="#2bb37a"/>
<rect x="1630.0" y="103" width="1" height="81" fill="#1a7d55"/>
<rect x="1627.0" y="121" width="7" height="63" fill="#1a7d55"/>
<rect x="1628.0" y="122" width="5" height="61" fill="#2bb37a"/>
<rect x="1639.0" y="82" width="1" height="95" fill="#b01a2c"/>
<rect x="1636.0" y="110" width="7" height="56" fill="#b01a2c"/>
<rect x="1637.0" y="111" width="5" height="54" fill="#ff3347"/>
<rect x="1648.0" y="128" width="1" height="79" fill="#b01a2c"/>
<rect x="1645.0" y="168" width="7" height="30" fill="#b01a2c"/>
<rect x="1646.0" y="169" width="5" height="28" fill="#ff3347"/>
<rect x="1658.0" y="156" width="1" height="111" fill="#b01a2c"/>
<rect x="1655.0" y="186" width="7" height="79" fill="#b01a2c"/>
<rect x="1656.0" y="187" width="5" height="77" fill="#ff3347"/>
<rect x="1667.0" y="222" width="1" height="74" fill="#1a7d55"/>
<rect x="1664.0" y="240" width="7" height="27" fill="#1a7d55"/>
<rect x="1665.0" y="241" width="5" height="25" fill="#2bb37a"/>
<rect x="1676.0" y="235" width="1" height="201" fill="#b01a2c"/>
<rect x="1673.0" y="244" width="7" height="182" fill="#b01a2c"/>
<rect x="1674.0" y="245" width="5" height="180" fill="#ff3347"/>
<rect x="1685.0" y="409" width="1" height="98" fill="#b01a2c"/>
<rect x="1682.0" y="427" width="7" height="65" fill="#b01a2c"/>
<rect x="1683.0" y="428" width="5" height="63" fill="#ff3347"/>
<rect x="1695.0" y="466" width="1" height="55" fill="#b01a2c"/>
<rect x="1692.0" y="482" width="7" height="3" fill="#b01a2c"/>
<rect x="1693.0" y="483" width="5" height="1" fill="#ff3347"/>
<rect x="1704.0" y="317" width="1" height="94" fill="#1a7d55"/>
<rect x="1701.0" y="347" width="7" height="24" fill="#1a7d55"/>
<rect x="1702.0" y="348" width="5" height="22" fill="#2bb37a"/>
<rect x="1713.0" y="336" width="1" height="58" fill="#b01a2c"/>
<rect x="1710.0" y="349" width="7" height="15" fill="#b01a2c"/>
<rect x="1711.0" y="350" width="5" height="13" fill="#ff3347"/>
<rect x="1722.0" y="345" width="1" height="111" fill="#b01a2c"/>
<rect x="1719.0" y="361" width="7" height="78" fill="#b01a2c"/>
<rect x="1720.0" y="362" width="5" height="76" fill="#ff3347"/>
<rect x="1731.0" y="367" width="1" height="90" fill="#1a7d55"/>
<rect x="1728.0" y="413" width="7" height="32" fill="#1a7d55"/>
<rect x="1729.0" y="414" width="5" height="30" fill="#2bb37a"/>
<rect x="1741.0" y="243" width="1" height="174" fill="#1a7d55"/>
<rect x="1738.0" y="245" width="7" height="168" fill="#1a7d55"/>
<rect x="1739.0" y="246" width="5" height="166" fill="#2bb37a"/>
<rect x="1750.0" y="228" width="1" height="70" fill="#b01a2c"/>
<rect x="1747.0" y="252" width="7" height="25" fill="#b01a2c"/>
<rect x="1748.0" y="253" width="5" height="23" fill="#ff3347"/>
<rect x="1759.0" y="245" width="1" height="76" fill="#1a7d55"/>
<rect x="1756.0" y="246" width="7" height="38" fill="#1a7d55"/>
<rect x="1757.0" y="247" width="5" height="36" fill="#2bb37a"/>
<rect x="1768.0" y="169" width="1" height="87" fill="#b01a2c"/>
<rect x="1765.0" y="228" width="7" height="4" fill="#b01a2c"/>
<rect x="1766.0" y="229" width="5" height="2" fill="#ff3347"/>
<rect x="1778.0" y="151" width="1" height="144" fill="#1a7d55"/>
<rect x="1775.0" y="158" width="7" height="76" fill="#1a7d55"/>
<rect x="1776.0" y="159" width="5" height="74" fill="#2bb37a"/>
<rect x="1787.0" y="140" width="1" height="78" fill="#b01a2c"/>
<rect x="1784.0" y="158" width="7" height="40" fill="#b01a2c"/>
<rect x="1785.0" y="159" width="5" height="38" fill="#ff3347"/>
<rect x="1796.0" y="189" width="1" height="105" fill="#b01a2c"/>
<rect x="1793.0" y="211" width="7" height="55" fill="#b01a2c"/>
<rect x="1794.0" y="212" width="5" height="53" fill="#ff3347"/>
<rect x="1805.0" y="255" width="1" height="122" fill="#b01a2c"/>
<rect x="1802.0" y="259" width="7" height="93" fill="#b01a2c"/>
<rect x="1803.0" y="260" width="5" height="91" fill="#ff3347"/>
<rect x="1814.0" y="266" width="1" height="136" fill="#1a7d55"/>
<rect x="1811.0" y="276" width="7" height="72" fill="#1a7d55"/>
<rect x="1812.0" y="277" width="5" height="70" fill="#2bb37a"/>
<rect x="1824.0" y="307" width="1" height="101" fill="#b01a2c"/>
<rect x="1821.0" y="318" width="7" height="61" fill="#b01a2c"/>
<rect x="1822.0" y="319" width="5" height="59" fill="#ff3347"/>
<rect x="1833.0" y="300" width="1" height="97" fill="#1a7d55"/>
<rect x="1830.0" y="321" width="7" height="54" fill="#1a7d55"/>
<rect x="1831.0" y="322" width="5" height="52" fill="#2bb37a"/>
<rect x="1842.0" y="325" width="1" height="109" fill="#b01a2c"/>
<rect x="1839.0" y="337" width="7" height="68" fill="#b01a2c"/>
<rect x="1840.0" y="338" width="5" height="66" fill="#ff3347"/>
<rect x="1851.0" y="376" width="1" height="96" fill="#b01a2c"/>
<rect x="1848.0" y="401" width="7" height="50" fill="#b01a2c"/>
<rect x="1849.0" y="402" width="5" height="48" fill="#ff3347"/>
<rect x="1861.0" y="382" width="1" height="97" fill="#b01a2c"/>
<rect x="1858.0" y="449" width="7" height="15" fill="#b01a2c"/>
<rect x="1859.0" y="450" width="5" height="13" fill="#ff3347"/>
<rect x="1870.0" y="388" width="1" height="89" fill="#1a7d55"/>
<rect x="1867.0" y="395" width="7" height="70" fill="#1a7d55"/>
<rect x="1868.0" y="396" width="5" height="68" fill="#2bb37a"/>
<rect x="1879.0" y="361" width="1" height="119" fill="#b01a2c"/>
<rect x="1876.0" y="392" width="7" height="67" fill="#b01a2c"/>
<rect x="1877.0" y="393" width="5" height="65" fill="#ff3347"/>
<rect x="1888.0" y="410" width="1" height="51" fill="#1a7d55"/>
<rect x="1885.0" y="455" width="7" height="5" fill="#1a7d55"/>
<rect x="1886.0" y="456" width="5" height="3" fill="#2bb37a"/>
<rect x="1897.0" y="464" width="1" height="133" fill="#b01a2c"/>
<rect x="1894.0" y="466" width="7" height="130" fill="#b01a2c"/>
<rect x="1895.0" y="467" width="5" height="128" fill="#ff3347"/>
<rect x="1907.0" y="576" width="1" height="102" fill="#b01a2c"/>
<rect x="1904.0" y="592" width="7" height="66" fill="#b01a2c"/>
<rect x="1905.0" y="593" width="5" height="64" fill="#ff3347"/>
<rect x="1916.0" y="595" width="1" height="74" fill="#1a7d55"/>
<rect x="1913.0" y="650" width="7" height="6" fill="#1a7d55"/>
<rect x="1914.0" y="651" width="5" height="4" fill="#2bb37a"/>
<rect x="1925.0" y="572" width="1" height="82" fill="#1a7d55"/>
<rect x="1922.0" y="590" width="7" height="62" fill="#1a7d55"/>
<rect x="1923.0" y="591" width="5" height="60" fill="#2bb37a"/>
<rect x="1934.0" y="544" width="1" height="89" fill="#1a7d55"/>
<rect x="1931.0" y="546" width="7" height="71" fill="#1a7d55"/>
<rect x="1932.0" y="547" width="5" height="69" fill="#2bb37a"/>
<rect x="1944.0" y="502" width="1" height="70" fill="#b01a2c"/>
<rect x="1941.0" y="545" width="7" height="14" fill="#b01a2c"/>
<rect x="1942.0" y="546" width="5" height="12" fill="#ff3347"/>
<rect x="1953.0" y="537" width="1" height="82" fill="#b01a2c"/>
<rect x="1950.0" y="558" width="7" height="53" fill="#b01a2c"/>
<rect x="1951.0" y="559" width="5" height="51" fill="#ff3347"/>
<rect x="1962.0" y="605" width="1" height="169" fill="#b01a2c"/>
<rect x="1959.0" y="619" width="7" height="123" fill="#b01a2c"/>
<rect x="1960.0" y="620" width="5" height="121" fill="#ff3347"/>
<rect x="1971.0" y="619" width="1" height="130" fill="#1a7d55"/>
<rect x="1968.0" y="629" width="7" height="118" fill="#1a7d55"/>
<rect x="1969.0" y="630" width="5" height="116" fill="#2bb37a"/>
<rect x="1980.0" y="540" width="1" height="91" fill="#1a7d55"/>
<rect x="1977.0" y="573" width="7" height="57" fill="#1a7d55"/>
<rect x="1978.0" y="574" width="5" height="55" fill="#2bb37a"/>
<rect x="1990.0" y="555" width="1" height="41" fill="#1a7d55"/>
<rect x="1987.0" y="556" width="7" height="13" fill="#1a7d55"/>
<rect x="1988.0" y="557" width="5" height="11" fill="#2bb37a"/>
<rect x="1999.0" y="550" width="1" height="154" fill="#b01a2c"/>
<rect x="1996.0" y="552" width="7" height="39" fill="#b01a2c"/>
<rect x="1997.0" y="553" width="5" height="37" fill="#ff3347"/>
<rect x="2008.0" y="596" width="1" height="48" fill="#1a7d55"/>
<rect x="2005.0" y="607" width="7" height="3" fill="#1a7d55"/>
<rect x="2006.0" y="608" width="5" height="1" fill="#2bb37a"/>
<rect x="2017.0" y="574" width="1" height="73" fill="#b01a2c"/>
<rect x="2014.0" y="599" width="7" height="48" fill="#b01a2c"/>
<rect x="2015.0" y="600" width="5" height="46" fill="#ff3347"/>
<rect x="2027.0" y="607" width="1" height="75" fill="#b01a2c"/>
<rect x="2024.0" y="625" width="7" height="22" fill="#b01a2c"/>
<rect x="2025.0" y="626" width="5" height="20" fill="#ff3347"/>
<rect x="2036.0" y="576" width="1" height="83" fill="#1a7d55"/>
<rect x="2033.0" y="594" width="7" height="51" fill="#1a7d55"/>
<rect x="2034.0" y="595" width="5" height="49" fill="#2bb37a"/>
<rect x="2045.0" y="538" width="1" height="84" fill="#1a7d55"/>
<rect x="2042.0" y="549" width="7" height="31" fill="#1a7d55"/>
<rect x="2043.0" y="550" width="5" height="29" fill="#2bb37a"/>
<rect x="2054.0" y="479" width="1" height="170" fill="#b01a2c"/>
<rect x="2051.0" y="555" width="7" height="78" fill="#b01a2c"/>
<rect x="2052.0" y="556" width="5" height="76" fill="#ff3347"/>
<rect x="2064.0" y="592" width="1" height="102" fill="#b01a2c"/>
<rect x="2061.0" y="621" width="7" height="66" fill="#b01a2c"/>
<rect x="2062.0" y="622" width="5" height="64" fill="#ff3347"/>
<rect x="2073.0" y="666" width="1" height="74" fill="#b01a2c"/>
<rect x="2070.0" y="677" width="7" height="39" fill="#b01a2c"/>
<rect x="2071.0" y="678" width="5" height="37" fill="#ff3347"/>
<rect x="2082.0" y="682" width="1" height="77" fill="#b01a2c"/>
<rect x="2079.0" y="715" width="7" height="44" fill="#b01a2c"/>
<rect x="2080.0" y="716" width="5" height="42" fill="#ff3347"/>
<rect x="2091.0" y="736" width="1" height="129" fill="#b01a2c"/>
<rect x="2088.0" y="751" width="7" height="111" fill="#b01a2c"/>
<rect x="2089.0" y="752" width="5" height="109" fill="#ff3347"/>
<rect x="2100.0" y="816" width="1" height="68" fill="#b01a2c"/>
<rect x="2097.0" y="848" width="7" height="8" fill="#b01a2c"/>
<rect x="2098.0" y="849" width="5" height="6" fill="#ff3347"/>
<rect x="2110.0" y="782" width="1" height="80" fill="#1a7d55"/>
<rect x="2107.0" y="801" width="7" height="47" fill="#1a7d55"/>
<rect x="2108.0" y="802" width="5" height="45" fill="#2bb37a"/>
<rect x="2119.0" y="778" width="1" height="54" fill="#b01a2c"/>
<rect x="2116.0" y="788" width="7" height="6" fill="#b01a2c"/>
<rect x="2117.0" y="789" width="5" height="4" fill="#ff3347"/>
<rect x="2128.0" y="772" width="1" height="140" fill="#b01a2c"/>
<rect x="2125.0" y="795" width="7" height="98" fill="#b01a2c"/>
<rect x="2126.0" y="796" width="5" height="96" fill="#ff3347"/>
<rect x="2137.0" y="844" width="1" height="89" fill="#1a7d55"/>
<rect x="2134.0" y="844" width="7" height="63" fill="#1a7d55"/>
<rect x="2135.0" y="845" width="5" height="61" fill="#2bb37a"/>
<rect x="2147.0" y="746" width="1" height="107" fill="#1a7d55"/>
<rect x="2144.0" y="771" width="7" height="73" fill="#1a7d55"/>
<rect x="2145.0" y="772" width="5" height="71" fill="#2bb37a"/>
<rect x="2156.0" y="751" width="1" height="71" fill="#1a7d55"/>
<rect x="2153.0" y="766" width="7" height="5" fill="#1a7d55"/>
<rect x="2154.0" y="767" width="5" height="3" fill="#2bb37a"/>
<rect x="2165.0" y="667" width="1" height="137" fill="#1a7d55"/>
<rect x="2162.0" y="720" width="7" height="36" fill="#1a7d55"/>
<rect x="2163.0" y="721" width="5" height="34" fill="#2bb37a"/>
<rect x="2174.0" y="661" width="1" height="82" fill="#1a7d55"/>
<rect x="2171.0" y="672" width="7" height="44" fill="#1a7d55"/>
<rect x="2172.0" y="673" width="5" height="42" fill="#2bb37a"/>
<rect x="2183.0" y="626" width="1" height="57" fill="#1a7d55"/>
<rect x="2180.0" y="641" width="7" height="38" fill="#1a7d55"/>
<rect x="2181.0" y="642" width="5" height="36" fill="#2bb37a"/>
</g>
<polyline points="7.5,5.0 25.0,14.0 45.0,22.0 52.0,26.0 80.0,37.5 100.0,48.5 135.0,63.5 155.0,74.0 180.0,83.5 202.0,95.0 222.0,108.0 240.0,117.0 265.0,131.5 285.0,142.0 300.0,152.5 312.0,162.0 330.0,173.0 345.0,186.5 362.0,202.0 375.0,216.5 395.0,235.0 412.0,251.5 430.0,265.0 442.0,273.0 460.0,285.0 475.0,292.5 487.0,298.0 502.0,307.5 520.0,315.5 532.0,322.5 560.0,331.5 590.0,345.0 607.0,350.5 625.0,361.0 645.0,372.0 670.0,385.0 692.0,396.5 707.0,405.0 727.0,414.5 755.0,425.0 772.0,431.5 800.0,443.5 827.0,452.5 857.0,465.5 875.0,475.0 895.0,483.5 920.0,496.5 937.0,502.0 955.0,509.5 980.0,515.0 988.0,517.5 1003.8,525.4 1022.3,532.8 1040.7,539.4 1059.2,544.2 1077.7,548.1 1096.2,550.5 1114.7,554.0 1135.8,556.6 1151.7,560.6 1164.9,565.0 1178.1,569.8 1199.2,574.6 1223.0,579.6 1244.1,582.0 1262.6,584.9 1278.5,586.4 1291.7,588.8 1315.4,591.7 1333.9,595.4 1345.8,596.7 1363.0,602.3 1381.5,606.0 1402.6,610.7 1421.1,614.7 1436.9,616.8 1463.4,616.8 1487.1,614.2 1513.5,611.5 1537.3,608.9 1553.2,605.5 1571.7,599.4 1592.8,593.0 1613.9,588.3 1630.0,583.8 1642.5,580.0 1657.5,576.8 1675.0,575.0 1702.5,575.0 1712.5,574.0 1723.8,573.8 1740.0,570.0 1755.0,566.8 1772.5,563.0 1787.5,560.0 1805.0,558.2 1825.0,557.0 1850.0,556.8 1862.5,558.0 1887.5,558.0 1902.5,559.5 1917.5,560.0 1927.5,561.0 1942.5,560.0 1955.0,560.0 1962.5,561.8 1975.0,562.0 1990.0,563.8 2010.0,565.0 2027.5,567.2 2057.5,567.5 2075.0,569.2 2092.5,571.0 2107.5,574.5 2120.0,576.0 2130.0,579.0 2150.0,581.2 2165.0,583.0 2184.0,583.0" fill="none" stroke="#5e2eba" stroke-width="2" stroke-linejoin="round" stroke-linecap="round"/>
<polyline points="6.7,500.6 18.2,509.7 33.4,517.9 53.0,527.0 62.2,527.9 78.9,536.1 97.0,542.8 106.2,543.1 118.3,541.3 133.5,542.2 151.7,543.1 163.8,541.9 182.0,534.6 200.2,524.0 212.3,521.0 238.1,520.3 254.8,514.0 273.0,508.2 284.5,504.9 300.3,507.9 312.4,509.7 320.9,509.7 339.7,517.9 357.9,524.0 373.1,531.6 385.2,535.8 403.4,547.3 415.5,557.3 433.7,568.0 448.9,577.7 458.6,583.7 468.6,585.6 485.3,587.4 503.5,590.7 515.6,590.7 533.8,586.8 549.0,580.7 560.5,576.8 571.7,578.0 579.3,582.2 594.5,585.5 609.6,592.2 624.8,600.7 640.0,605.9 652.1,611.9 664.2,621.9 679.4,630.1 694.6,637.7 709.7,645.3 721.9,655.9 734.0,665.0 745.0,675.8 757.5,681.2 772.5,688.8 782.5,693.8 792.5,695.8 805.0,695.5 817.5,693.8 827.5,689.2 837.5,689.2 855.0,691.5 873.8,690.0 890.0,691.0 902.5,692.5 912.5,696.2 922.5,703.8 932.5,713.0 940.0,718.8 955.0,729.5 967.5,737.5 980.0,747.5 992.5,757.5 1005.0,771.2 1022.5,787.5 1040.0,798.8 1057.5,807.5 1075.0,812.0 1090.0,814.5 1105.0,815.8 1113.8,813.2 1122.5,807.5 1132.5,799.5 1142.5,796.5 1152.5,795.0 1170.0,791.2 1180.0,788.0 1195.0,780.5 1205.0,773.0 1222.5,764.5 1231.2,758.8 1250.0,744.5 1262.5,739.5 1275.0,730.0 1288.8,720.0 1305.0,703.8 1318.1,691.8 1331.3,680.7 1344.5,669.6 1353.7,665.4 1365.6,656.4 1384.1,639.8 1397.3,630.0 1407.9,622.6 1426.4,611.5 1444.9,598.3 1455.4,588.8 1473.9,568.5 1489.8,544.7 1500.0,532.6 1516.8,513.0 1533.5,490.7 1550.3,468.3 1575.4,436.2 1595.0,418.0 1611.7,399.9 1631.3,377.5 1648.0,360.8 1666.2,348.8 1681.6,346.0 1695.5,345.4 1712.3,342.6 1731.8,339.8 1751.4,332.0 1768.2,327.3 1784.9,319.7 1804.5,313.3 1821.2,305.8 1840.8,299.9 1860.3,297.9 1871.5,294.6 1888.3,292.9 1896.6,295.1 1913.4,304.1 1930.2,312.5 1944.1,320.3 1960.9,335.6 1972.1,344.0 1986.0,353.8 2000.0,365.5 2016.8,383.1 2036.3,406.3 2047.5,414.7 2064.2,432.0 2081.0,451.6 2100.6,482.3 2114.5,500.4 2128.5,518.0 2139.7,527.0 2156.4,536.8 2167.6,546.5 2176.0,551.6 2183.8,554.9" fill="none" stroke="#07b377" stroke-width="2" stroke-linejoin="round" stroke-linecap="round"/>
<g clip-path="url(#cl)">
<line x1="597.0" y1="556.17" x2="2402.0" y2="557.52" stroke="#e53935" stroke-width="2" stroke-dasharray="8 8" stroke-linecap="round"/>
<line x1="-13.6" y1="648.41" x2="2402.0" y2="649.43" stroke="#e53935" stroke-width="2" stroke-dasharray="8 8" stroke-linecap="round"/>
<line x1="-8.0" y1="758.50" x2="2402.0" y2="759.54" stroke="#02b479" stroke-width="2" stroke-dasharray="8 8" stroke-linecap="round"/>
<line x1="358.5" y1="924.48" x2="2402.0" y2="925.48" stroke="#02b479" stroke-width="2" stroke-dasharray="8 8" stroke-linecap="round"/>
</g>
<g shape-rendering="crispEdges">
<rect x="2.0" y="352.0" width="1925.0" height="24.0" fill="#ef958f" fill-opacity="0.33"/>
<rect x="2.0" y="352.0" width="1925.0" height="1" fill="#e53935"/>
<rect x="2.0" y="375.0" width="1925.0" height="1" fill="#e53935"/>
<rect x="1926.0" y="352.0" width="1" height="24.0" fill="#e53935"/>
</g>
<g shape-rendering="crispEdges">
<rect x="588.0" y="547.0" width="1615.0" height="20.0" fill="#ef958f" fill-opacity="0.33"/>
<rect x="588.0" y="547.0" width="1615.0" height="1" fill="#e53935"/>
<rect x="588.0" y="566.0" width="1615.0" height="1" fill="#e53935"/>
<rect x="588.0" y="547.0" width="1" height="20.0" fill="#e53935"/>
<rect x="2202.0" y="547.0" width="1" height="20.0" fill="#e53935"/>
</g>
<g shape-rendering="crispEdges">
<rect x="2.0" y="639.0" width="2229.0" height="18.0" fill="#ef958f" fill-opacity="0.33"/>
<rect x="2.0" y="639.0" width="2229.0" height="1" fill="#e53935"/>
<rect x="2.0" y="656.0" width="2229.0" height="1" fill="#e53935"/>
<rect x="2230.0" y="639.0" width="1" height="18.0" fill="#e53935"/>
</g>
<g shape-rendering="crispEdges">
<rect x="2.0" y="747.0" width="2201.0" height="25.0" fill="#6ed6b0" fill-opacity="0.29"/>
<rect x="2.0" y="747.0" width="2201.0" height="1" fill="#02b479"/>
<rect x="2.0" y="771.0" width="2201.0" height="1" fill="#02b479"/>
<rect x="2202.0" y="747.0" width="1" height="25.0" fill="#02b479"/>
</g>
<g shape-rendering="crispEdges">
<rect x="321.0" y="915.0" width="1845.0" height="24.0" fill="#6ed6b0" fill-opacity="0.29"/>
<rect x="321.0" y="915.0" width="1845.0" height="1" fill="#02b479"/>
<rect x="321.0" y="938.0" width="1845.0" height="1" fill="#02b479"/>
<rect x="321.0" y="915.0" width="1" height="24.0" fill="#02b479"/>
<rect x="2165.0" y="915.0" width="1" height="24.0" fill="#02b479"/>
</g>
<g clip-path="url(#cl)" opacity="0.5">
<line x1="597.0" y1="556.17" x2="2402.0" y2="557.52" stroke="#e53935" stroke-width="2" stroke-dasharray="8 8" stroke-linecap="round"/>
<line x1="-13.6" y1="648.41" x2="2402.0" y2="649.43" stroke="#e53935" stroke-width="2" stroke-dasharray="8 8" stroke-linecap="round"/>
<line x1="-8.0" y1="758.50" x2="2402.0" y2="759.54" stroke="#02b479" stroke-width="2" stroke-dasharray="8 8" stroke-linecap="round"/>
<line x1="358.5" y1="924.48" x2="2402.0" y2="925.48" stroke="#02b479" stroke-width="2" stroke-dasharray="8 8" stroke-linecap="round"/>
</g>
<path d="M2434.8,640.4 L2442.1,632 L2493.8,632 L2493.8,648.8 L2442.1,648.8 Z" fill="#87939b"/>
<text x="2445.6" y="645.1" font-size="12.6" font-weight="bold" fill="#f2f4f5" stroke="#f2f4f5" stroke-width="0.35" textLength="28.8" lengthAdjust="spacingAndGlyphs">80.21</text>
<rect x="2401" y="550.0" width="37" height="15.0" fill="#e53935"/>
<text x="2420.3" y="560.0" font-size="10.7" fill="#fff" text-anchor="middle">82.50</text>
<rect x="2401" y="642.0" width="37" height="15.0" fill="#e53935"/>
<text x="2420.3" y="652.0" font-size="10.7" fill="#fff" text-anchor="middle">80.00</text>
<rect x="2401" y="752.0" width="37" height="15.0" fill="#02b479"/>
<text x="2420.3" y="762.0" font-size="10.7" fill="#fff" text-anchor="middle">77.00</text>
<rect x="2401" y="918.0" width="37" height="15.0" fill="#02b479"/>
<text x="2420.3" y="928.0" font-size="10.7" fill="#fff" text-anchor="middle">72.50</text>
<rect x="2438" y="22" width="6" height="1" fill="#ececec"/>
<text x="2446" y="26.6" font-size="12" fill="#333a40">96.95</text>
<rect x="2438" y="59" width="6" height="1" fill="#ececec"/>
<text x="2446" y="64.1" font-size="12" fill="#333a40">95.93</text>
<rect x="2438" y="97" width="6" height="1" fill="#ececec"/>
<text x="2446" y="101.6" font-size="12" fill="#333a40">94.92</text>
<rect x="2438" y="134" width="6" height="1" fill="#ececec"/>
<text x="2446" y="139.1" font-size="12" fill="#333a40">93.90</text>
<rect x="2438" y="172" width="6" height="1" fill="#ececec"/>
<text x="2446" y="176.6" font-size="12" fill="#333a40">92.88</text>
<rect x="2438" y="209" width="6" height="1" fill="#ececec"/>
<text x="2446" y="214.1" font-size="12" fill="#333a40">91.87</text>
<rect x="2438" y="247" width="6" height="1" fill="#ececec"/>
<text x="2446" y="251.6" font-size="12" fill="#333a40">90.85</text>
<rect x="2438" y="284" width="6" height="1" fill="#ececec"/>
<text x="2446" y="289.1" font-size="12" fill="#333a40">89.83</text>
<rect x="2438" y="322" width="6" height="1" fill="#ececec"/>
<text x="2446" y="326.6" font-size="12" fill="#333a40">88.82</text>
<rect x="2438" y="359" width="6" height="1" fill="#ececec"/>
<text x="2446" y="364.1" font-size="12" fill="#333a40">87.80</text>
<rect x="2438" y="397" width="6" height="1" fill="#ececec"/>
<text x="2446" y="401.6" font-size="12" fill="#333a40">86.78</text>
<rect x="2438" y="434" width="6" height="1" fill="#ececec"/>
<text x="2446" y="439.1" font-size="12" fill="#333a40">85.77</text>
<rect x="2438" y="472" width="6" height="1" fill="#ececec"/>
<text x="2446" y="476.6" font-size="12" fill="#333a40">84.75</text>
<rect x="2438" y="509" width="6" height="1" fill="#ececec"/>
<text x="2446" y="514.1" font-size="12" fill="#333a40">83.74</text>
<rect x="2438" y="547" width="6" height="1" fill="#ececec"/>
<text x="2446" y="551.6" font-size="12" fill="#333a40">82.72</text>
<rect x="2438" y="584" width="6" height="1" fill="#ececec"/>
<text x="2446" y="589.1" font-size="12" fill="#333a40">81.70</text>
<rect x="2438" y="622" width="6" height="1" fill="#ececec"/>
<text x="2446" y="626.6" font-size="12" fill="#333a40">80.69</text>
<rect x="2438" y="659" width="6" height="1" fill="#ececec"/>
<text x="2446" y="664.1" font-size="12" fill="#333a40">79.67</text>
<rect x="2438" y="697" width="6" height="1" fill="#ececec"/>
<text x="2446" y="701.6" font-size="12" fill="#333a40">78.65</text>
<rect x="2438" y="734" width="6" height="1" fill="#ececec"/>
<text x="2446" y="739.1" font-size="12" fill="#333a40">77.64</text>
<rect x="2438" y="772" width="6" height="1" fill="#ececec"/>
<text x="2446" y="776.6" font-size="12" fill="#333a40">76.62</text>
<rect x="2438" y="809" width="6" height="1" fill="#ececec"/>
<text x="2446" y="814.1" font-size="12" fill="#333a40">75.60</text>
<rect x="2438" y="847" width="6" height="1" fill="#ececec"/>
<text x="2446" y="851.6" font-size="12" fill="#333a40">74.59</text>
<rect x="2438" y="884" width="6" height="1" fill="#ececec"/>
<text x="2446" y="889.1" font-size="12" fill="#333a40">73.57</text>
<rect x="2438" y="922" width="6" height="1" fill="#ececec"/>
<text x="2446" y="926.6" font-size="12" fill="#333a40">72.55</text>
<rect x="2438" y="959" width="6" height="1" fill="#ececec"/>
<text x="2446" y="964.1" font-size="12" fill="#333a40">71.54</text>
<rect x="2438" y="997" width="6" height="1" fill="#ececec"/>
<text x="2446" y="1001.6" font-size="12" fill="#333a40">70.52</text>
<text x="2446" y="1034.2" font-size="12" fill="#333a40">69.50</text>
<rect x="7" y="1034" width="1" height="4" fill="#e4e4e4"/>
<text x="7.0" y="1047" font-size="12" fill="#333a40">23.01.2023</text>
<rect x="136" y="1034" width="1" height="4" fill="#e4e4e4"/>
<text x="136.1" y="1047" font-size="12" fill="#333a40">10.02.2023</text>
<rect x="265" y="1034" width="1" height="4" fill="#e4e4e4"/>
<text x="265.3" y="1047" font-size="12" fill="#333a40">02.03.2023</text>
<rect x="394" y="1034" width="1" height="4" fill="#e4e4e4"/>
<text x="394.4" y="1047" font-size="12" fill="#333a40">22.03.2023</text>
<rect x="523" y="1034" width="1" height="4" fill="#e4e4e4"/>
<text x="523.6" y="1047" font-size="12" fill="#333a40">12.04.2023</text>
<rect x="652" y="1034" width="1" height="4" fill="#e4e4e4"/>
<text x="652.7" y="1047" font-size="12" fill="#333a40">02.05.2023</text>
<rect x="781" y="1034" width="1" height="4" fill="#e4e4e4"/>
<text x="781.8" y="1047" font-size="12" fill="#333a40">22.05.2023</text>
<rect x="910" y="1034" width="1" height="4" fill="#e4e4e4"/>
<text x="911.0" y="1047" font-size="12" fill="#333a40">09.06.2023</text>
<rect x="1040" y="1034" width="1" height="4" fill="#e4e4e4"/>
<text x="1040.1" y="1047" font-size="12" fill="#333a40">29.06.2023</text>
<rect x="1169" y="1034" width="1" height="4" fill="#e4e4e4"/>
<text x="1169.2" y="1047" font-size="12" fill="#333a40">19.07.2023</text>
<rect x="1298" y="1034" width="1" height="4" fill="#e4e4e4"/>
<text x="1298.4" y="1047" font-size="12" fill="#333a40">08.08.2023</text>
<rect x="1427" y="1034" width="1" height="4" fill="#e4e4e4"/>
<text x="1427.5" y="1047" font-size="12" fill="#333a40">28.08.2023</text>
<rect x="1556" y="1034" width="1" height="4" fill="#e4e4e4"/>
<text x="1556.7" y="1047" font-size="12" fill="#333a40">15.09.2023</text>
<rect x="1685" y="1034" width="1" height="4" fill="#e4e4e4"/>
<text x="1685.8" y="1047" font-size="12" fill="#333a40">05.10.2023</text>
<rect x="1814" y="1034" width="1" height="4" fill="#e4e4e4"/>
<text x="1814.9" y="1047" font-size="12" fill="#333a40">25.10.2023</text>
<rect x="1944" y="1034" width="1" height="4" fill="#e4e4e4"/>
<text x="1944.1" y="1047" font-size="12" fill="#333a40">14.11.2023</text>
<rect x="2073" y="1034" width="1" height="4" fill="#e4e4e4"/>
<text x="2073.2" y="1047" font-size="12" fill="#333a40">04.12.2023</text>
<rect x="2202" y="1034" width="1" height="4" fill="#e4e4e4"/>
<text x="2202.4" y="1047" font-size="12" fill="#333a40">22.12.2023</text>
<rect x="2331" y="1034" width="1" height="4" fill="#e4e4e4"/>
<text x="2331.5" y="1047" font-size="12" fill="#333a40">05.01.2024</text>
<g font-size="14"><text x="2379.2" y="1021" fill="#ff9800">06</text><text x="2396.2" y="1021" fill="#bec6cc">h</text><text x="2408.2" y="1021" fill="#ff9800">20</text><text x="2424.8" y="1021" fill="#bec6cc">m</text></g>
<g fill="#aaa">
<rect x="6" y="1007.0" width="10" height="5.6"/><rect x="11" y="1010.9" width="4.5" height="0.9" fill="#fff"/><rect x="13" y="1008.2" width="2.5" height="0.8" fill="#fff"/><rect x="6" y="1014.1" width="10" height="1.8"/>
<path d="M19.7,1009.55 l1.7,-1.7 l2.45,2.45 l2.45,-2.45 l1.7,1.7 l-2.45,2.45 l2.45,2.45 l-1.7,1.7 l-2.45,-2.45 l-2.45,2.45 l-1.7,-1.7 l2.45,-2.45 z"/>
</g>
<text x="31.1" y="1016.9" font-size="9.8" fill="#5a5a5a" textLength="21.0" lengthAdjust="spacingAndGlyphs">SMA</text>
<text x="57.1" y="1016.9" font-size="9.8" fill="#5a5a5a" textLength="21.0" lengthAdjust="spacingAndGlyphs">[200,</text>
<text x="84.0" y="1016.9" font-size="9.8" fill="#5a5a5a" textLength="7.0" lengthAdjust="spacingAndGlyphs">0]</text>
<text x="96.0" y="1016.9" font-size="9.8" fill="#5a5a5a" textLength="24.9" lengthAdjust="spacingAndGlyphs">81.76</text>
<g fill="#aaa">
<rect x="6" y="1021.0" width="10" height="5.6"/><rect x="11" y="1024.9" width="4.5" height="0.9" fill="#fff"/><rect x="13" y="1022.2" width="2.5" height="0.8" fill="#fff"/><rect x="6" y="1028.1" width="10" height="1.8"/>
<path d="M19.7,1023.55 l1.7,-1.7 l2.45,2.45 l2.45,-2.45 l1.7,1.7 l-2.45,2.45 l2.45,2.45 l-1.7,1.7 l-2.45,-2.45 l-2.45,2.45 l-1.7,-1.7 l2.45,-2.45 z"/>
</g>
<text x="31.1" y="1030.9" font-size="9.8" fill="#5a5a5a" textLength="21.0" lengthAdjust="spacingAndGlyphs">SMA</text>
<text x="57.1" y="1030.9" font-size="9.8" fill="#5a5a5a" textLength="17.5" lengthAdjust="spacingAndGlyphs">[50,</text>
<text x="79.8" y="1030.9" font-size="9.8" fill="#5a5a5a" textLength="7.3" lengthAdjust="spacingAndGlyphs">0]</text>
<text x="92.0" y="1030.9" font-size="9.8" fill="#5a5a5a" textLength="24.9" lengthAdjust="spacingAndGlyphs">82.52</text>
</svg></body></html>
